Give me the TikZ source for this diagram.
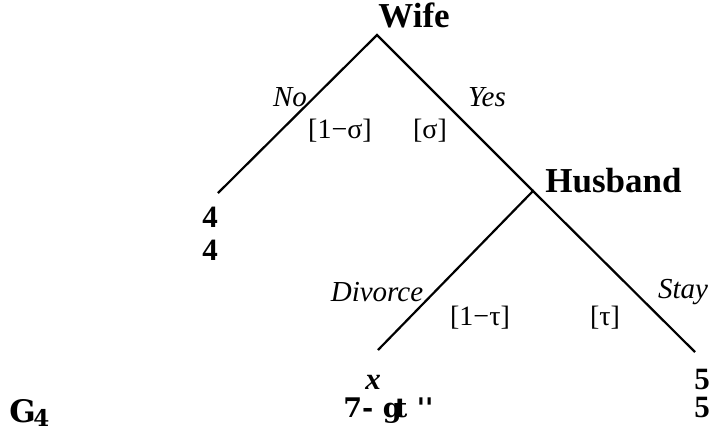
\documentclass[tikz,border=0pt]{standalone}
\usepackage{fontspec}
\setmainfont{Liberation Serif}
\newfontfamily\heavyfont{DejaVu Serif}
\usepackage{tikz}

\begin{document}
\begin{tikzpicture}[x=0.5pt,y=-0.5pt,
	player/.style={inner sep=0pt, font=\fontsize{17.5}{20}\selectfont\bfseries},
	move/.style={inner sep=0pt, font=\fontsize{14.5}{17}\selectfont\itshape},
	prob/.style={inner sep=0pt, font=\fontsize{14}{17}\selectfont},
	payoff/.style={inner sep=0pt, font=\fontsize{15.5}{18}\selectfont\bfseries},
	branch/.style={line width=1.1pt}]
	\useasboundingbox (0,0) rectangle (712,441);
	
	% decision points and ends
	\coordinate (wife) at (377,35);
	\coordinate (husband) at (533,191);
	\coordinate (noend) at (218,193);
	\coordinate (divend) at (378,350);
	\coordinate (stayend) at (695,352);
	
	\draw[branch] (noend) -- (wife) -- (husband);
	\draw[branch] (divend) -- (husband) -- (stayend);
	
	\node[player, anchor=base west] (wifelbl) at (378,27) {Wife};
	\node[player, anchor=base west] (husblbl) at (545,192) {Husband};
	
	\node[move] (nolbl) at (290,97) {No};
	\node[move] (yeslbl) at (487,97) {Yes};
	\node[prob] (sig1) at (340,131) {[1−σ]};
	\node[prob] (sig) at (430,131) {[σ]};
	
	\node[move] (divlbl) at (377,292) {Divorce};
	\node[move] (staylbl) at (683,292) {Stay};
	\node[prob] (tau1) at (480,318) {[1−τ]};
	\node[prob] (tau) at (605,318) {[τ]};
	
	% payoffs
	\node[payoff, anchor=base] (nowife) at (210,227) {4};
	\node[payoff, anchor=base] (nohusb) at (210,260) {4};
	\node[payoff, anchor=base] (divwife) at (373,389) {\itshape x};
	\node[payoff, anchor=base west, font=\heavyfont\fontsize{13.5}{16}\selectfont\bfseries] (divhusb) at (343,417) {7- g\kern-.25em t\kern.35em ''};
	\node[payoff, anchor=base] (staywife) at (702,389) {5};
	\node[payoff, anchor=base] (stayhusb) at (702,417) {5};
	
	\node[anchor=base west, inner sep=0pt, font=\heavyfont\fontsize{15.5}{18}\selectfont\bfseries] (gamename) at (9,422) {G\kern-.08em\raisebox{-.3ex}{\fontsize{11.5}{13}\selectfont 4}};
\end{tikzpicture}
\end{document}
